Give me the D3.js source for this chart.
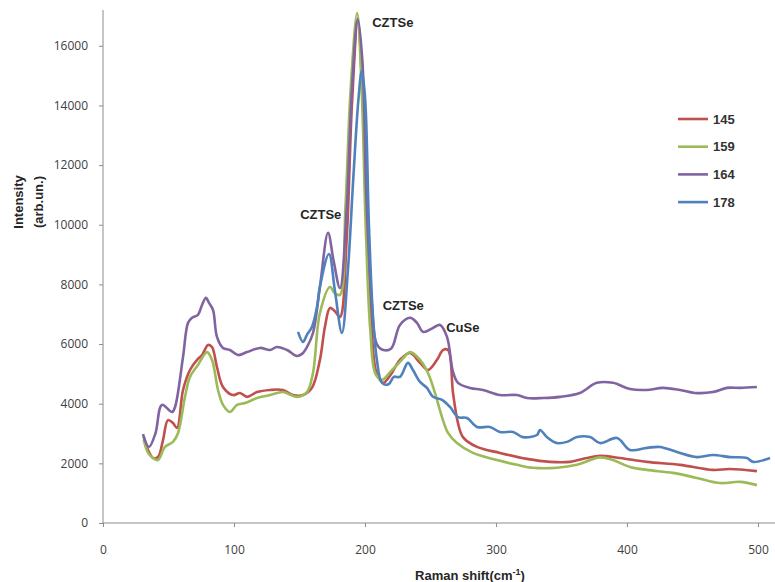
<!DOCTYPE html>
<html>
<head>
<meta charset="utf-8">
<script src="https://cdn.jsdelivr.net/npm/d3@7"></script>
<style>
  body { margin: 0; background: #fff; }
  .tick text { font-family: "Open Sans", "DejaVu Sans", sans-serif; font-size: 12px; fill: #404040; }
  .axis path, .axis line { stroke: #8c8c8c; }
  .ttl { font-family: "Liberation Sans", Arial, sans-serif; font-weight: bold; font-size: 13px; fill: #262626; }
  .lbl { font-family: "Liberation Sans", Arial, sans-serif; font-weight: bold; font-size: 13px; fill: #262626; }
  .leg { font-family: "Liberation Sans Narrow", "Liberation Sans", Arial, sans-serif; font-weight: bold; font-size: 13px; fill: #333; }
</style>
</head>
<body>
<div id="chart"></div>
<script>
const seriesNames = ["145", "159", "164", "178"];
const seriesColors = ["#c0504d", "#9bbb59", "#8064a2", "#4f81bd"];

const xTicks = [0, 100, 200, 300, 400, 500];
const yTicks = [0, 2000, 4000, 6000, 8000, 10000, 12000, 14000, 16000];

// [Raman shift, intensity]
const s145 = [
  [31, 2900], [34.4, 2450], [38.2, 2180], [42, 2210], [45.8, 2780], [49.6, 3450], [53.4, 3350], [56.5, 3190],
  [61.1, 4460], [66.4, 5130], [71.8, 5470], [75.6, 5630], [80.2, 5970], [83.2, 5900], [87, 5230], [91.6, 4560],
  [99.2, 4290], [104.6, 4360], [109.9, 4230], [117.6, 4390], [127.5, 4460], [137.4, 4460], [145, 4290],
  [152.7, 4290], [159.5, 4530], [165.6, 5470], [169.5, 6600], [173.3, 7210], [177, 7100], [180.9, 6910],
  [186, 9500], [190, 14000], [194.5, 16800], [198, 14500], [201, 10500], [205, 6500], [209, 5000], [214, 4700],
  [220, 5000], [226.7, 5470], [234.4, 5700], [242, 5370], [248.1, 5130], [255, 5470], [259.5, 5800],
  [263.4, 5800], [267.2, 4360], [271, 3350], [274.8, 2880], [285.5, 2550], [303, 2350], [323.7, 2150],
  [341.2, 2050], [356.5, 2050], [369.5, 2180], [379.4, 2250], [394.7, 2180], [415.3, 2050], [440.5, 1950],
  [465.6, 1780], [478.6, 1810], [499.2, 1740]
];
const s159 = [
  [31, 2800], [34.4, 2350], [38.2, 2180], [42, 2110], [47.3, 2550], [53.4, 2720], [57.3, 3020], [62.6, 4230],
  [66.4, 4900], [72.5, 5300], [79.4, 5730], [83.2, 5470], [87.8, 4460], [91.6, 3960], [96.9, 3720],
  [102.3, 3960], [108.4, 4020], [117.6, 4190], [127.5, 4290], [137.4, 4390], [148.1, 4230], [155.7, 4390],
  [160.3, 5030], [165.6, 7040], [173.3, 7910], [177, 7700], [180.9, 7650], [185, 10500], [189, 14500],
  [194, 17100], [197.5, 14500], [200.5, 10000], [204, 6500], [208, 5000], [213, 4800], [220, 5100],
  [226.7, 5400], [234.4, 5730], [242, 5470], [248.1, 5030], [253.4, 4360], [258.8, 3550], [263.4, 3020],
  [270.2, 2680], [282.4, 2350], [300.8, 2110], [316, 1950], [328.2, 1850], [346.6, 1850], [361.8, 1950],
  [379.4, 2200], [389.3, 2110], [402.3, 1880], [415.3, 1780], [435, 1680], [453.4, 1510], [471, 1340],
  [486.3, 1380], [499.2, 1270]
];
const s164 = [
  [30.5, 2980], [35.1, 2550], [40, 3000], [45, 3960], [52.7, 3720], [55, 3890], [61.1, 5570], [64.9, 6710],
  [68, 6880], [72.5, 6980], [75.6, 7310], [78.6, 7550], [80.9, 7380], [84, 7140], [87, 6240], [91.6, 5870],
  [96.9, 5800], [103.1, 5630], [109.9, 5730], [119.8, 5870], [127.5, 5800], [132.8, 5900], [140.5, 5800],
  [148.1, 5600], [151.9, 5670], [155.7, 5900], [160.3, 6370], [165.6, 7920], [171.8, 9730], [176, 8800],
  [180.9, 7880], [186, 10500], [190, 14500], [194.5, 16900], [198, 15500], [201, 11000], [205, 7500],
  [209, 6000], [214, 5800], [220, 5850], [226.7, 6640], [234.4, 6880], [239.7, 6710], [244.3, 6410],
  [251.9, 6540], [257.3, 6640], [262.6, 6240], [267.2, 5070], [271, 4700], [280.2, 4530], [290, 4460],
  [303, 4290], [316, 4290], [323.7, 4190], [335.9, 4190], [348.9, 4230], [364, 4360], [377, 4700],
  [389.3, 4700], [402.3, 4490], [415, 4460], [427.5, 4530], [440.5, 4460], [451.9, 4360], [465.6, 4390],
  [476.3, 4530], [486.3, 4530], [499.2, 4560]
];
const s178 = [
  [148.9, 6410], [152.7, 6070], [155.7, 6310], [159.5, 6570], [163.4, 7250], [165.6, 7920], [172.5, 9020],
  [177, 7800], [182.4, 6370], [187, 8500], [191, 11500], [195, 14200], [197.5, 15150], [200, 14300],
  [203, 10000], [206, 7000], [209, 5500], [213, 4700], [218, 4650], [222, 4900], [226.7, 4900],
  [232.8, 5370], [236.6, 5130], [242, 4730], [247.3, 4530], [251.9, 4230], [258.8, 4130], [264.9, 3890],
  [271, 3550], [277.9, 3520], [285.5, 3220], [295.4, 3220], [303, 3050], [313, 3050], [320.6, 2880],
  [331.3, 2950], [333.6, 3120], [338.9, 2880], [346.6, 2680], [354.2, 2720], [361.8, 2880], [371.8, 2880],
  [379.4, 2680], [392.4, 2850], [402.3, 2450], [415.3, 2520], [425.2, 2550], [438.2, 2380], [453.4, 2210],
  [465.6, 2280], [478.6, 2210], [491.6, 2180], [496.2, 2050], [509.2, 2180]
];
const seriesData = [s145, s159, s164, s178];

// peak labels: [x, y, text]
const peakLabels = [
  [205.5, 16770, "CZTSe"], [150.5, 10330, "CZTSe"], [213.5, 7280, "CZTSe"], [262, 6540, "CuSe"]
];

const W = 775, H = 582;
const svg = d3.select("#chart").append("svg").attr("width", W).attr("height", H);

const x = d3.scaleLinear().domain([0, 513]).range([103, 775]);
const y = d3.scaleLinear().domain([0, 17200]).range([523, 10]);

svg.append("g")
  .attr("class", "axis")
  .attr("transform", "translate(0,523)")
  .call(d3.axisBottom(x).tickValues(xTicks).tickSize(4).tickPadding(18).tickSizeOuter(0))
  .call(g => g.select(".domain").attr("d", "M103,0H775"));

svg.append("g")
  .attr("class", "axis")
  .attr("transform", "translate(103,0)")
  .call(d3.axisLeft(y).tickValues(yTicks).tickFormat(d3.format("d")).tickSize(4).tickPadding(11).tickSizeOuter(0))
  .call(g => g.select(".domain").attr("d", "M0,10V523"));

const line = d3.line()
  .x(d => x(d[0]))
  .y(d => y(d[1]))
  .curve(d3.curveCatmullRom.alpha(0.5));

seriesData.forEach((data, i) => {
  svg.append("path")
    .datum(data)
    .attr("d", line)
    .style("fill", "none")
    .style("stroke", seriesColors[i])
    .style("stroke-width", 2.6)
    .style("stroke-linejoin", "round");
});

svg.selectAll("text.lbl")
  .data(peakLabels)
  .enter().append("text")
  .attr("class", "lbl")
  .attr("x", d => x(d[0]))
  .attr("y", d => y(d[1]))
  .attr("dy", "0.35em")
  .text(d => d[2]);

// legend
const leg = svg.append("g").attr("transform", "translate(678,119)");
seriesNames.forEach((name, i) => {
  const row = leg.append("g").attr("transform", `translate(0,${i * 27.7})`);
  row.append("line").attr("x1", 0).attr("x2", 30)
    .style("stroke", seriesColors[i]).style("stroke-width", 2.6);
  row.append("text").attr("class", "leg").attr("x", 35).attr("dy", "0.35em").text(name);
});

// axis titles
const xt = svg.append("text").attr("class", "ttl")
  .attr("x", 470).attr("y", 580).style("text-anchor", "middle");
xt.append("tspan").text("Raman shift(cm");
xt.append("tspan").attr("dy", -5).style("font-size", "9px").text("-1");
xt.append("tspan").attr("dy", 5).text(")");

svg.append("text").attr("class", "ttl")
  .attr("transform", "translate(23,202) rotate(-90)")
  .style("text-anchor", "middle").text("Intensity");
svg.append("text").attr("class", "ttl")
  .attr("transform", "translate(43,202) rotate(-90)")
  .style("text-anchor", "middle").text("(arb.un.)");
</script>
</body>
</html>
